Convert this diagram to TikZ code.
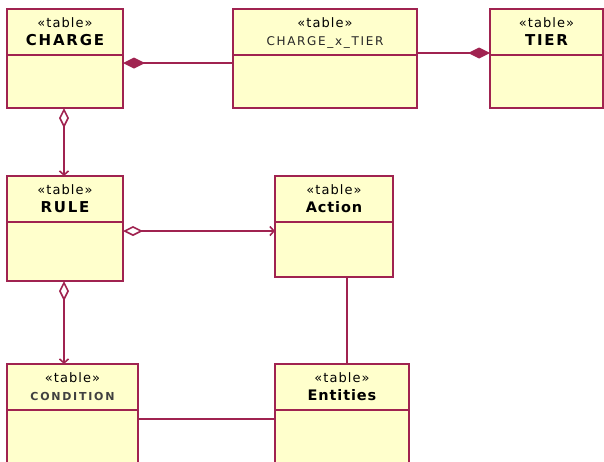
\documentclass[tikz,border=0pt]{standalone}
\usepackage{fontspec}
\setmainfont{DejaVu Sans}
\usetikzlibrary{arrows.meta}
\definecolor{bdcol}{RGB}{160,35,80}
\definecolor{fillcol}{RGB}{255,255,204}
\tikzset{
  bd/.style={draw=bdcol, line width=2pt},
  tbl/.style={bd, fill=fillcol, rectangle, inner sep=0pt, outer sep=0pt, anchor=north west},
  stereo/.style={font=\fontsize{13}{14}\selectfont\addfontfeature{LetterSpace=8}, inner sep=0pt, anchor=base},
  tname/.style={font=\fontsize{14.5}{15}\selectfont\bfseries\addfontfeature{LetterSpace=6}, inner sep=0pt, anchor=base},
  tcaps/.style={font=\fontsize{15}{16}\selectfont\bfseries\addfontfeature{LetterSpace=12}, inner sep=0pt, anchor=base},
  tsmall/.style={font=\fontsize{12}{13}\selectfont\addfontfeature{LetterSpace=14}, text=black!85, inner sep=0pt, anchor=base},
  tsmallb/.style={font=\fontsize{11}{12}\selectfont\bfseries\addfontfeature{LetterSpace=16}, text=black!75, inner sep=0pt, anchor=base},
  comp/.style={bd, line width=1.6pt},
  fdia/.tip={Diamond[length=22pt,width=11pt]},
  odia/.tip={Diamond[open,length=20pt,width=10pt,line width=1.6pt]},
  barb/.tip={Straight Barb[length=4pt,width=9pt,line width=1.6pt]}
}
\newcommand{\umltab}[7]{%
  \node[tbl, minimum width=#4pt, minimum height=#5pt] (#1) at (#2,#3) {};
  \draw[bd] ([yshift=-45.5pt]#1.north west) -- ([yshift=-45.5pt]#1.north east);
  \node[stereo] (#1-st) at ([yshift=-18pt]#1.north) {«table»};
  \node[#6] (#1-nm) at ([yshift=-36pt]#1.north) {#7};
}
\begin{document}
\begin{tikzpicture}[x=1pt,y=-1pt]
\useasboundingbox (0,0) rectangle (604,461);
\clip (0,0) rectangle (604,461);
\umltab{charge}{7}{9}{116}{99}{tcaps}{CHARGE}
\umltab{xtier}{233}{9}{184}{99}{tsmall}{CHARGE\_x\_TIER}
\umltab{tier}{490}{9}{113}{99}{tcaps}{TIER}
\umltab{rule}{7}{176}{116}{105}{tcaps}{RULE}
\umltab{action}{275}{176}{118}{101}{tname}{Action}
\umltab{condition}{7}{364}{131}{110}{tsmallb}{CONDITION}
\umltab{entities}{275}{364}{134}{110}{tname}{Entities}
% connectors
\draw[comp, fdia-] ([yshift=-4.5pt]charge.east) -- ([yshift=-4.5pt]charge.east -| xtier.west);
\draw[comp, -fdia] ([yshift=5.5pt]xtier.east) -- ([yshift=5.5pt]xtier.east -| tier.west);
\draw[comp, odia-barb] ([xshift=-1pt]charge.south) -- ([xshift=-1pt]charge.south |- rule.north);
\draw[comp, odia-barb] ([yshift=-2.5pt]rule.east) -- ([yshift=-2.5pt]rule.east -| action.west);
\draw[comp, odia-barb] ([xshift=-1pt]rule.south) -- ([xshift=-1pt]rule.south |- condition.north);
\draw[comp] ([xshift=13pt]action.south) -- ([xshift=13pt]action.south |- entities.north);
\draw[comp] ([yshift=-55pt]condition.north east) -- ([yshift=-55pt]condition.north east -| entities.west);
\end{tikzpicture}
\end{document}
